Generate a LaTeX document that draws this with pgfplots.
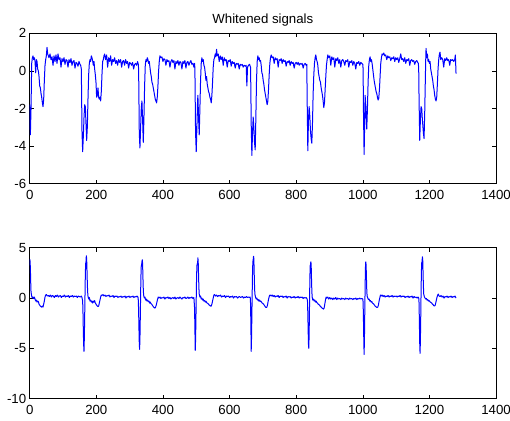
\documentclass[border=0pt]{standalone}
\usepackage{pgfplots}
\pgfplotsset{compat=1.18}
\usepackage{fontspec}
\setmainfont{Liberation Sans}
\pgfplotsset{
  mstyle/.style={
    anchor=south west, scale only axis, width=466.3bp,
    xmin=0, xmax=1400, xtick={0,200,...,1400},
    tick align=inside, major tick length=4bp,
    tick style={black, line width=0.5bp},
    axis line style={black, line width=0.8bp},
    every tick label/.append style={font=\fontsize{13.3}{16}\selectfont},
    xticklabel style={yshift=-3.5bp},
    /pgf/number format/assume math mode=true,
    /pgf/number format/1000 sep={},
    xtick pos=both, ytick pos=both,
    xticklabel pos=lower, yticklabel pos=left,
  },
  sig/.style={color=blue, line width=1bp, mark=none, line join=round}
}
\begin{document}
\begin{tikzpicture}[font=\fontsize{13.3}{16}\selectfont]
\path[use as bounding box] (0,0) rectangle (510bp,421bp);
\begin{axis}[mstyle, at={(29.7bp,237.3bp)}, height=150.4bp,
  ymin=-6, ymax=2, ytick={-6,-4,-2,0,2},
  title={Whitened signals}, title style={font=\fontsize{13.3}{16}\selectfont, yshift=-2.5bp}]
\addplot[sig] coordinates {
(0,-1.8)(2,-3.4)(4,-2.0)(6,0.4)(8,0.7)(10,0.8)(12,0.6)(14,0.7)(16,0.5)(18,-0.1)(20,0.6)(22,0.5)(24,0.1)(26,0.0)(28,-0.3)(30,-0.8)(32,-0.9)(34,-1.2)(36,-1.4)(38,-1.7)(40,-1.9)(42,-1.5)(44,-0.5)(46,0.3)(48,0.6)(50,0.8)(52,1.25)(54,0.9)(56,0.8)
(58,0.7)(61,0.9)(64,0.6)(67,0.75)(70,0.3)(73,0.8)(76,0.5)(79,0.85)(82,0.4)(85,0.9)(88,0.6)(91,0.7)(94,0.2)(97,0.65)(100,0.5)(103,0.7)(106,0.35)(109,0.6)(112,0.55)(115,0.2)(118,0.6)(121,0.45)(124,0.65)(127,0.3)(130,0.5)(133,0.55)(136,0.15)(139,0.45)(142,0.4)(145,0.25)(148,0.5)(151,0.35)(153,0.3)
(155,0.1)(156,-1.5)(157,-3.2)(159,-4.3)(161,-3.5)(163,-2.5)(165,-1.8)(167,-1.9)(169,-2.8)(171,-3.7)(173,-3.0)(175,-1.5)(177,-0.2)(179,0.4)(181,0.6)(183,0.5)(185,0.8)(187,0.7)(189,0.55)(191,0.3)(193,0.5)(195,0.1)(197,-0.2)(199,-0.6)(201,-1.4)(203,-1.3)(205,-0.9)(207,-1.4)(209,-1.5)(211,-1.4)(213,-1.6)(215,-1.1)(217,-0.2)(219,0.5)(221,0.6)(223,0.8)(225,0.9)(228,0.6)(231,0.85)(234,0.2)(237,0.7)(240,0.5)(243,0.8)(246,0.3)(249,0.6)(252,0.5)(255,0.7)(258,0.4)(261,0.55)(264,0.3)(267,0.6)(270,0.45)(273,0.6)(276,0.2)(279,0.5)(282,0.55)(285,0.3)(288,0.6)(291,0.4)(294,0.5)(297,0.15)(300,0.45)(303,0.4)(306,0.3)(309,0.45)(312,0.1)(315,0.35)(318,0.4)(321,0.3)(324,0.5)(326,0.35)
(327,0.1)(328,-1.5)(329,-3.3)(331,-4.1)(333,-3.0)(335,-2.0)(337,-1.6)(339,-2.6)(341,-3.8)(343,-2.5)(345,-0.8)(347,0.3)(349,0.6)(351,0.5)(353,0.7)(355,0.6)(357,0.4)(359,0.5)(361,0.2)(363,-0.1)(365,-0.3)(367,-0.6)(369,-0.7)(371,-0.9)(373,-1.1)(375,-1.3)(377,-1.5)(379,-1.6)(381,-1.7)(383,-1.4)(385,-0.8)(387,0.0)(389,0.5)(391,0.8)(394,0.7)(397,0.75)(400,0.5)(403,0.65)(406,0.6)(409,0.3)(412,0.6)(415,0.5)(418,0.55)(421,0.2)(424,0.5)(427,0.6)(430,0.45)(433,0.55)(436,0.1)(439,0.5)(442,0.4)(445,0.55)(448,0.3)(451,0.5)(454,0.45)(457,0.1)(460,0.5)(463,0.4)(466,0.55)(469,0.15)(472,0.45)(475,0.5)(478,0.3)(481,0.45)(484,0.55)(487,0.35)(490,0.4)(493,0.2)(495,0.4)
(496,0.1)(497,-1.6)(498,-3.3)(500,-4.3)(502,-3.0)(504,-1.6)(505,-1.3)(507,-2.5)(509,-3.4)(511,-2.0)(513,-0.5)(515,0.4)(517,0.7)(519,0.5)(521,0.6)(523,0.3)(525,0.2)(527,-0.1)(529,-0.5)(531,-0.3)(533,-0.7)(535,-0.9)(537,-1.1)(539,-1.2)(541,-1.4)(543,-1.5)(545,-1.7)(547,-1.3)(549,-0.6)(551,0.2)(553,0.6)(555,0.7)(557,0.9)(559,0.75)(561,1.15)(563,0.8)(566,0.9)(569,0.5)(572,0.8)(575,0.6)(578,0.75)(581,0.3)(584,0.7)(587,0.55)(590,0.6)(593,0.2)(596,0.55)(599,0.5)(602,0.6)(605,0.25)(608,0.5)(611,0.4)(614,0.45)(617,0.15)(620,0.4)(623,0.35)(626,0.4)(629,0.1)(632,0.35)(635,0.3)(638,0.35)(641,0.2)(644,0.3)(647,0.25)(650,0.3)(652,-0.8)(654,0.2)(657,0.3)(660,0.35)(663,0.2)
(664,-1.0)(665,-2.8)(667,-4.5)(669,-3.3)(671,-2.45)(673,-3.0)(675,-3.8)(677,-4.2)(679,-2.5)(681,-0.5)(683,0.5)(685,0.8)(687,0.6)(689,0.7)(691,0.5)(693,0.55)(695,0.3)(697,-0.1)(699,-0.2)(701,-0.5)(703,-0.7)(705,-1.0)(707,-1.2)(709,-1.4)(711,-1.6)(713,-1.8)(715,-1.6)(717,-1.0)(719,-0.2)(721,0.4)(723,0.7)(725,0.85)(728,0.7)(731,0.75)(734,0.4)(737,0.7)(740,0.6)(743,0.65)(746,0.2)(749,0.6)(752,0.55)(755,0.65)(758,0.4)(761,0.6)(764,0.5)(767,0.55)(770,0.25)(773,0.5)(776,0.45)(779,0.55)(782,0.3)(785,0.5)(788,0.4)(791,0.45)(794,0.15)(797,0.4)(800,0.45)(803,0.35)(806,0.45)(809,0.3)(812,0.4)(815,0.35)(818,0.4)(821,0.15)(824,0.35)(827,0.4)(830,0.3)(832,0.35)
(833,-1.5)(835,-4.25)(837,-2.6)(839,-1.9)(841,-2.4)(843,-3.2)(845,-3.6)(847,-3.85)(849,-2.8)(851,-1.2)(853,-0.2)(855,0.4)(857,0.7)(859,0.85)(861,0.6)(863,0.5)(865,0.3)(867,-0.1)(869,-0.3)(871,-0.5)(873,-0.6)(875,-0.9)(877,-1.1)(879,-1.3)(881,-1.6)(883,-1.95)(885,-1.7)(887,-1.0)(889,-0.3)(891,0.3)(893,0.6)(895,0.85)(898,0.7)(901,0.8)(904,0.3)(907,0.75)(910,0.6)(913,0.7)(916,0.2)(919,0.65)(922,0.55)(925,0.7)(928,0.4)(931,0.6)(934,0.2)(937,0.55)(940,0.6)(943,0.5)(946,0.3)(949,0.55)(952,0.5)(955,0.6)(958,0.2)(961,0.5)(964,0.45)(967,0.55)(970,0.3)(973,0.5)(976,0.4)(979,0.1)(982,0.45)(985,0.4)(988,0.5)(991,0.3)(994,0.45)(997,0.4)(1000,0.35)
(1001,0.1)(1002,-2.0)(1004,-4.45)(1006,-2.5)(1007,-1.3)(1009,-1.8)(1011,-2.8)(1012,-3.1)(1014,-2.0)(1016,-0.6)(1018,0.3)(1020,0.6)(1022,0.75)(1024,0.5)(1026,0.6)(1028,0.4)(1030,0.1)(1032,-0.2)(1034,-0.5)(1036,-0.7)(1038,-0.9)(1040,-1.1)(1042,-1.2)(1044,-1.4)(1046,-1.55)(1048,-1.45)(1050,-1.0)(1052,-0.3)(1054,0.4)(1056,0.7)(1058,0.9)(1060,0.85)(1063,0.95)(1066,0.8)(1069,0.85)(1072,0.6)(1075,0.8)(1078,0.7)(1081,0.75)(1084,0.55)(1087,0.7)(1090,0.65)(1093,0.75)(1096,0.5)(1099,0.7)(1102,0.6)(1105,0.7)(1108,0.45)(1111,0.65)(1114,0.9)(1117,0.6)(1120,0.65)(1123,0.5)(1126,0.7)(1129,0.4)(1132,0.6)(1135,0.55)(1138,0.65)(1141,0.3)(1144,0.55)(1147,0.6)(1150,0.5)(1153,0.55)(1156,0.35)(1159,0.5)(1162,0.55)(1165,0.45)(1167,0.4)
(1168,0.0)(1169,-1.5)(1171,-3.7)(1173,-2.6)(1175,-1.9)(1177,-2.0)(1179,-2.6)(1182,-3.3)(1184,-3.6)(1186,-2.2)(1188,-0.3)(1189,0.6)(1190,1.2)(1192,0.7)(1194,0.9)(1196,0.5)(1198,0.6)(1200,0.4)(1202,0.5)(1204,0.1)(1206,-0.1)(1208,-0.3)(1210,-0.5)(1212,-0.8)(1214,-1.0)(1216,-1.3)(1218,-1.5)(1220,-1.6)(1222,-1.4)(1224,-0.7)(1226,0.1)(1228,0.6)(1230,0.9)(1232,1.0)(1234,0.6)(1237,0.7)(1240,0.6)(1243,0.2)(1246,0.65)(1249,0.55)(1252,0.7)(1255,0.55)(1258,0.6)(1261,0.3)(1264,0.6)(1267,0.55)(1270,0.6)(1273,0.5)(1276,0.6)(1278,0.85)(1280,-0.15)
};
\end{axis}
\begin{axis}[mstyle, at={(29.7bp,22.3bp)}, height=151bp,
  ymin=-10, ymax=5, ytick={-10,-5,0,5}]
\addplot[sig] coordinates {
(0,3.85)(1,3.7)(2,3.0)(3,1.6)(4,0.6)(6,0.2)(8,0.0)(10,0.1)(12,-0.05)(14,0.1)(16,-0.1)(18,-0.3)(20,-0.2)(22,-0.4)(24,-0.3)(26,-0.35)(28,-0.6)(30,-0.7)(32,-0.8)(34,-0.85)(36,-0.9)(38,-0.8)(40,-0.9)(42,-0.6)(44,-0.3)(46,0.1)(48,0.3)(50,0.35)(53,0.2)(56,0.25)(59,0.15)(62,0.3)(65,0.1)(68,0.25)(71,0.2)(74,0.05)(77,0.25)(80,0.15)(83,0.3)(86,0.1)(89,0.2)(92,0.25)(95,0.05)(98,0.2)(101,0.15)(104,0.3)(107,0.1)(110,0.2)(113,0.15)(116,0.25)(119,0.05)(122,0.2)(125,0.15)(128,0.25)(131,0.1)(134,0.2)(137,0.15)(140,0.2)(143,0.05)(146,0.2)(149,0.15)(152,0.1)(155,0.2)(157,0.05)
(159,-0.3)(160,-1.5)(161,-3.2)(162,-4.6)(163,-5.3)(164,-4.0)(165,-2.0)(166,0.2)(167,2.3)(168,3.4)(169,3.6)(170,4.2)(171,3.9)(172,2.8)(173,1.5)(174,0.6)(175,0.2)(177,-0.1)(179,0.05)(181,-0.3)(183,-0.2)(185,-0.4)(187,-0.3)(189,-0.5)(191,-0.3)(193,-0.4)(195,-0.25)(197,-0.5)(199,-0.6)(201,-0.7)(203,-0.8)(205,-0.85)(207,-0.8)(209,-0.5)(211,-0.2)(213,0.1)(215,0.3)(217,0.25)(220,0.35)(223,0.2)(226,0.3)(229,0.15)(232,0.25)(235,0.2)(238,0.3)(241,0.1)(244,0.2)(247,0.15)(250,0.25)(253,0.05)(256,0.2)(259,0.15)(262,0.2)(265,0.05)(268,0.15)(271,0.1)(274,0.2)(277,0.05)(280,0.15)(283,0.1)(286,0.2)(289,0.0)(292,0.15)(295,0.1)(298,0.2)(301,0.05)(304,0.15)(307,0.1)(310,0.2)(313,0.05)(316,0.15)(319,0.1)(322,0.2)(325,0.1)
(326,-0.2)(327,-1.2)(328,-3.0)(329,-4.5)(330,-5.1)(331,-4.0)(332,-2.0)(333,0.3)(334,2.2)(335,3.2)(336,3.3)(337,3.6)(338,3.8)(339,3.4)(340,2.0)(341,0.9)(342,0.3)(344,0.0)(346,0.1)(348,-0.2)(350,-0.1)(352,-0.3)(354,-0.2)(356,-0.35)(358,-0.3)(360,-0.5)(362,-0.4)(364,-0.55)(366,-0.6)(368,-0.7)(370,-0.8)(372,-0.9)(374,-0.95)(376,-1.0)(378,-0.9)(380,-0.7)(382,-0.4)(384,-0.1)(386,0.1)(388,0.0)(391,0.1)(394,-0.05)(397,0.05)(400,0.0)(403,0.1)(406,-0.1)(409,0.05)(412,0.0)(415,0.1)(418,-0.05)(421,0.05)(424,-0.1)(427,0.0)(430,0.05)(433,-0.05)(436,0.1)(439,-0.1)(442,0.0)(445,0.05)(448,-0.05)(451,0.1)(454,0.0)(457,-0.1)(460,0.05)(463,0.0)(466,0.1)(469,-0.05)(472,0.0)(475,0.1)(478,-0.05)(481,0.05)(484,0.0)(487,0.1)(490,-0.05)(493,0.05)
(495,-1.0)(496,-3.0)(497,-5.2)(498,-4.2)(499,-2.2)(500,0.0)(501,2.0)(502,3.2)(503,3.4)(504,3.3)(505,4.0)(506,3.5)(507,2.2)(508,1.0)(509,0.4)(511,0.1)(513,0.2)(515,-0.1)(517,0.0)(519,-0.2)(521,-0.1)(523,-0.3)(525,-0.25)(527,-0.4)(529,-0.3)(531,-0.45)(533,-0.5)(535,-0.55)(537,-0.6)(539,-0.7)(541,-0.75)(543,-0.8)(545,-0.8)(547,-0.6)(549,-0.3)(551,0.0)(553,0.3)(555,0.35)(558,0.2)(561,0.3)(564,0.15)(567,0.25)(570,0.2)(573,0.3)(576,0.1)(579,0.2)(582,0.15)(585,0.25)(588,0.05)(591,0.2)(594,0.15)(597,0.2)(600,0.05)(603,0.15)(606,0.1)(609,0.2)(612,0.0)(615,0.15)(618,0.1)(621,0.15)(624,0.0)(627,0.1)(630,0.15)(633,0.05)(636,0.1)(639,0.15)(642,0.0)(645,0.1)(648,0.05)(651,0.15)(654,0.05)(657,0.1)(660,0.05)(662,0.1)
(663,-0.5)(664,-2.5)(665,-5.3)(666,-4.0)(667,-1.8)(668,0.5)(669,2.5)(670,3.6)(671,3.8)(672,4.15)(673,3.9)(674,2.5)(675,1.2)(676,0.4)(678,0.1)(680,-0.1)(682,0.0)(684,-0.2)(686,-0.15)(688,-0.3)(690,-0.2)(692,-0.35)(694,-0.3)(696,-0.4)(698,-0.5)(700,-0.55)(702,-0.6)(704,-0.7)(706,-0.8)(708,-0.9)(710,-0.95)(712,-0.9)(714,-0.7)(716,-0.3)(718,0.0)(720,0.25)(722,0.3)(725,0.2)(728,0.3)(731,0.15)(734,0.25)(737,0.1)(740,0.2)(743,0.15)(746,0.25)(749,0.05)(752,0.2)(755,0.15)(758,0.2)(761,0.05)(764,0.15)(767,0.1)(770,0.2)(773,0.0)(776,0.15)(779,0.1)(782,0.15)(785,0.0)(788,0.1)(791,0.05)(794,0.15)(797,0.0)(800,0.1)(803,0.05)(806,0.15)(809,0.0)(812,0.1)(815,0.05)(818,0.1)(821,-0.05)(824,0.05)(827,0.0)(830,0.05)(833,-0.1)
(834,-0.3)(835,-1.5)(836,-3.2)(837,-4.6)(838,-5.0)(839,-3.5)(840,-1.0)(841,1.5)(842,3.2)(843,3.3)(844,3.6)(845,3.4)(846,2.0)(847,0.8)(848,0.1)(850,-0.2)(852,-0.1)(854,-0.3)(856,-0.2)(858,-0.4)(860,-0.3)(862,-0.45)(864,-0.5)(866,-0.6)(868,-0.65)(870,-0.7)(872,-0.8)(874,-0.85)(876,-0.95)(878,-1.0)(880,-1.05)(882,-1.1)(884,-1.0)(886,-0.6)(888,-0.2)(890,0.1)(892,0.0)(895,0.1)(898,-0.1)(901,0.05)(904,-0.1)(907,0.0)(910,-0.15)(913,0.0)(916,-0.1)(919,0.05)(922,-0.15)(925,0.0)(928,-0.1)(931,-0.05)(934,-0.15)(937,0.0)(940,-0.1)(943,-0.05)(946,-0.15)(949,0.0)(952,-0.1)(955,-0.05)(958,-0.15)(961,0.0)(964,-0.1)(967,-0.05)(970,-0.15)(973,-0.05)(976,-0.1)(979,0.0)(982,-0.15)(985,-0.05)(988,-0.1)(991,0.0)(994,-0.1)(997,-0.05)(1000,-0.1)
(1001,-0.4)(1002,-2.0)(1003,-4.0)(1004,-5.6)(1005,-4.0)(1006,-1.5)(1007,1.0)(1008,3.0)(1009,3.6)(1010,3.3)(1011,2.0)(1012,0.8)(1013,0.2)(1015,0.0)(1017,-0.15)(1019,-0.1)(1021,-0.3)(1023,-0.25)(1025,-0.4)(1027,-0.35)(1029,-0.5)(1031,-0.55)(1033,-0.6)(1035,-0.7)(1037,-0.8)(1039,-0.85)(1041,-0.9)(1043,-0.95)(1045,-0.9)(1047,-0.7)(1049,-0.3)(1051,0.0)(1053,0.3)(1055,0.2)(1058,0.3)(1061,0.15)(1064,0.25)(1067,0.1)(1070,0.2)(1073,0.15)(1076,0.25)(1079,0.1)(1082,0.2)(1085,0.15)(1088,0.25)(1091,0.1)(1094,0.2)(1097,0.15)(1100,0.2)(1103,0.1)(1106,0.2)(1109,0.15)(1112,0.25)(1115,0.1)(1118,0.2)(1121,0.15)(1124,0.2)(1127,0.05)(1130,0.15)(1133,0.1)(1136,0.2)(1139,0.05)(1142,0.15)(1145,0.1)(1148,0.2)(1151,0.0)(1154,0.15)(1157,0.05)(1160,0.1)(1163,0.0)(1166,0.1)(1168,0.0)
(1169,-0.5)(1170,-2.5)(1171,-4.5)(1172,-5.5)(1173,-4.2)(1174,-2.0)(1175,0.5)(1176,2.6)(1177,3.5)(1178,3.6)(1179,4.1)(1180,3.8)(1181,2.5)(1182,1.2)(1183,0.4)(1185,0.1)(1187,0.0)(1189,-0.1)(1191,-0.05)(1193,-0.2)(1195,-0.15)(1197,-0.3)(1199,-0.25)(1201,-0.35)(1203,-0.4)(1205,-0.45)(1207,-0.5)(1209,-0.6)(1211,-0.65)(1213,-0.75)(1215,-0.8)(1217,-0.75)(1219,-0.5)(1221,-0.2)(1223,0.1)(1225,0.3)(1227,0.4)(1229,0.2)(1232,0.15)(1235,0.25)(1238,0.1)(1241,0.2)(1244,0.0)(1247,0.15)(1250,0.1)(1253,0.2)(1256,0.05)(1259,0.15)(1262,0.1)(1265,0.2)(1268,0.05)(1271,0.15)(1274,0.1)(1277,0.2)(1280,0.0)
};
\end{axis}
\end{tikzpicture}
\end{document}
